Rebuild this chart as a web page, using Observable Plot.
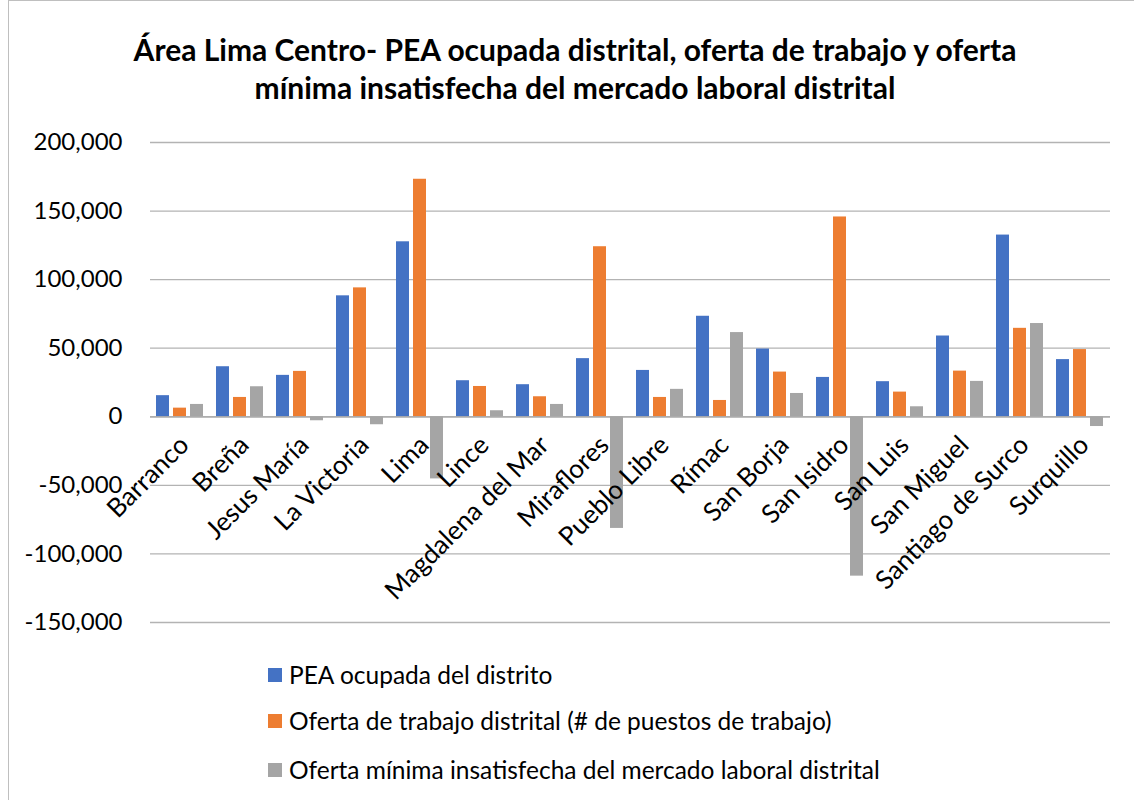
<!DOCTYPE html>
<html>
<head>
<meta charset="utf-8">
<script src="https://cdn.jsdelivr.net/npm/d3@7"></script>
<script src="https://cdn.jsdelivr.net/npm/@observablehq/plot@0.6"></script>
<style>
  html, body { margin: 0; padding: 0; background: #fff; }
  body { width: 1134px; height: 800px; position: relative; overflow: hidden; font-family: Lato, "Liberation Sans", sans-serif; color: #000; }
  #frame { position: absolute; left: 8px; top: 0px; width: 1140px; height: 820px; border-left: 1px solid #bfbfbf; border-top: 1px solid #bfbfbf; }
  #title { position: absolute; left: 0; width: 1150px; top: 30px; text-align: center; font-weight: bold; font-size: 30px; line-height: 38px; }
  #chart { position: absolute; left: 0; top: 125px; }
  #legend { position: absolute; left: 268px; top: 660px; font-size: 24.5px; }
  .row { position: absolute; left: 0; white-space: nowrap; display: flex; align-items: center; height: 30px; line-height: 30px; }
  .sw { width: 14px; height: 14px; margin-right: 7px; }
</style>
</head>
<body>
<div id="frame"></div>
<div id="title">Área Lima Centro- PEA ocupada distrital, oferta de trabajo y oferta<br>mínima insatisfecha del mercado laboral distrital</div>
<div id="chart"></div>
<div id="legend"></div>
<script>
const districts = ["Barranco","Breña","Jesus María","La Victoria","Lima","Lince","Magdalena del Mar","Miraflores","Pueblo Libre","Rímac","San Borja","San Isidro","San Luis","San Miguel","Santiago de Surco","Surquillo"];
const series = ["PEA ocupada del distrito","Oferta de trabajo distrital (# de puestos de trabajo)","Oferta mínima insatisfecha del mercado laboral distrital"];
const colors = ["#4472C4","#ED7D31","#A5A5A5"];
const peaOcupada = [15400,36500,30200,88200,127600,26300,23400,42400,33800,73300,49400,28700,25600,58900,132500,41700];
const ofertaTrabajo = [6300,14100,33100,94000,173200,22100,14600,124000,14100,11900,32600,145700,18000,33300,64500,49000];
const ofertaInsatisfecha = [9000,21900,-2900,-5800,-45300,4400,9000,-81400,20000,61400,17000,-116200,7300,25800,68000,-7100];
const yTicks = [-150000,-100000,-50000,0,50000,100000,150000,200000];

const valuesBySeries = [peaOcupada, ofertaTrabajo, ofertaInsatisfecha];
const data = [];
districts.forEach((d, i) => series.forEach((s, j) => data.push({district: d, series: s, value: valuesBySeries[j][i]})));

const chart = Plot.plot({
  width: 1134,
  height: 507,
  marginLeft: 147,
  marginRight: 21,
  marginTop: 17,
  marginBottom: 10,
  style: {fontFamily: "Lato, 'Liberation Sans', sans-serif", background: "transparent", color: "#000", overflow: "visible"},
  fx: {domain: districts, padding: 0, axis: null, label: null},
  x: {domain: series, paddingInner: 0.215, paddingOuter: 0.313, axis: null},
  y: {domain: [-150000, 200000], label: null},
  color: {domain: series, range: colors},
  marks: [
    Plot.gridY(yTicks, {stroke: "#b3b3b3", strokeOpacity: 1, strokeWidth: 1.3}),
    Plot.barY(data, {fx: "district", x: "series", y: "value", fill: "series"}),
    Plot.ruleY([0], {stroke: "#a6a6a6", strokeWidth: 1.3}),
    Plot.axisY({ticks: yTicks, tickFormat: d => d.toLocaleString("en-US"), tickSize: 0, tickPadding: 28, fontSize: 24, label: null, fill: "#000"}),
    Plot.text(districts, {fx: d => d, y: () => 0, text: d => d, rotate: -45, textAnchor: "end", dx: 4, dy: 24, fontSize: 26, fill: "#000"})
  ]
});
document.getElementById("chart").appendChild(chart);

const legend = document.getElementById("legend");
const rowTops = [0, 46, 95];
series.forEach((s, i) => {
  const row = document.createElement("div");
  row.className = "row";
  row.style.top = rowTops[i] + "px";
  const sw = document.createElement("div");
  sw.className = "sw";
  sw.style.background = colors[i];
  const t = document.createElement("span");
  t.textContent = s;
  row.appendChild(sw);
  row.appendChild(t);
  legend.appendChild(row);
});
</script>
</body>
</html>
